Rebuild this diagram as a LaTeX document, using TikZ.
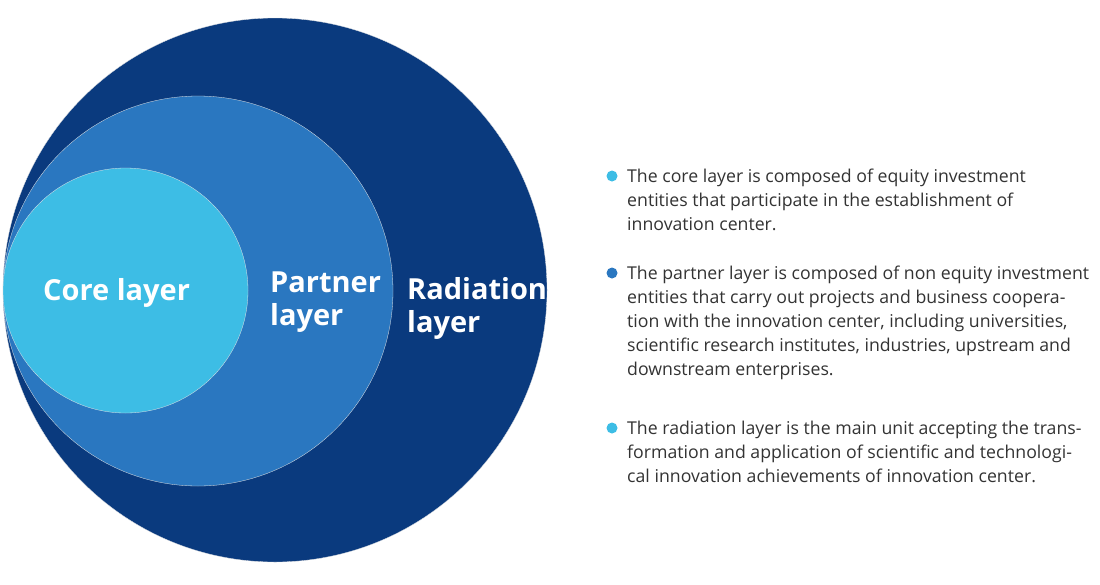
\documentclass[tikz,border=0pt]{standalone}
\usepackage{fontspec}
\setmainfont{Open Sans}
\definecolor{radiationblue}{HTML}{0A3A7E}
\definecolor{partnerblue}{HTML}{2A77C0}
\definecolor{coreblue}{HTML}{3DBDE5}
\definecolor{notegray}{HTML}{333333}
\begin{document}
\begin{tikzpicture}[x=1pt,y=-1pt,
  layer/.style={circle,inner sep=0pt,draw=black!10,line width=0.3pt},
  layerlabel/.style={text=white,font=\fontsize{29}{33}\selectfont\bfseries,align=left,inner sep=0pt,anchor=base west},
  note/.style={text=notegray,font=\fontsize{17.7}{24}\selectfont,align=left,inner sep=0pt,anchor=north west},
  dot/.style={circle,inner sep=0pt,minimum size=11pt}]
\useasboundingbox (0,0) rectangle (1100,584);
% circles
\node[layer,fill=radiationblue,minimum size=544pt] (radiation) at (275,290) {};
\node[layer,fill=partnerblue,minimum size=390pt] (partner) at (198,291) {};
\node[layer,fill=coreblue,minimum size=245pt] (core) at (125.5,290.5) {};
% labels
\node[layerlabel] (corelabel) at (43,300) {Core layer};
\node[layerlabel] (partnerlabel) at (270,325) {Partner\\layer};
\node[layerlabel] (radiationlabel) at (407,332) {Radiation\\layer};
% notes
\node[dot,fill=coreblue] (coredot) at (612,176) {};
\node[note] (corenote) at (627,168.5) {The core layer is composed of equity investment\\
entities that participate in the establishment of\\innovation center.};
\node[dot,fill=partnerblue] (partnerdot) at (612,273) {};
\node[note] (partnernote) at (627,265.5) {The partner layer is composed of non equity investment\\
entities that carry out projects and business coopera-\\
tion with the innovation center, including universities,\\
scientific research institutes, industries, upstream and\\
downstream enterprises.};
\node[dot,fill=coreblue] (radiationdot) at (612,428) {};
\node[note] (radiationnote) at (627,420.5) {The radiation layer is the main unit accepting the trans-\\
formation and application of scientific and technologi-\\
cal innovation achievements of innovation center.};
\end{tikzpicture}
\end{document}
